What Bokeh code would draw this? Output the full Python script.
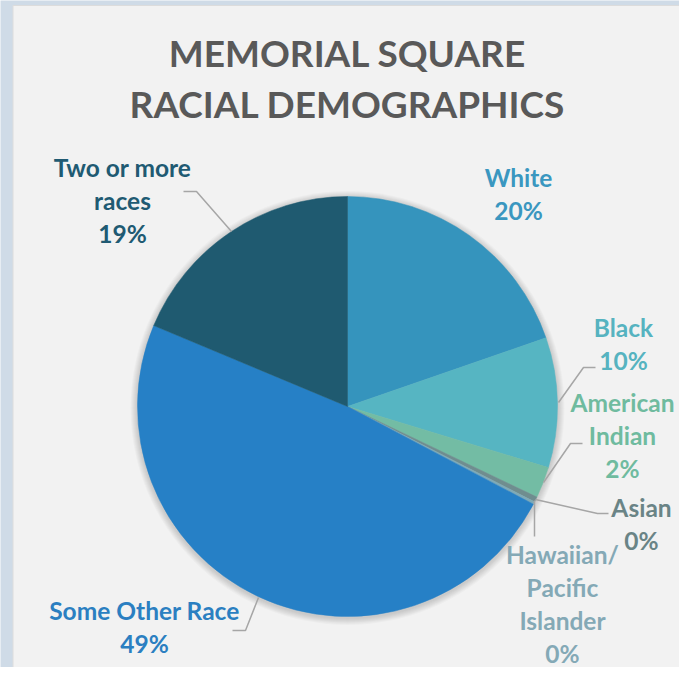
from bokeh.plotting import figure
from bokeh.models import Range1d
from bokeh.core.properties import value
from bokeh.embed import file_html
from bokeh.resources import INLINE
import math

# ---- data ----
categories = ["White", "Black", "American Indian", "Asian", "Hawaiian/Pacific Islander",
              "Some Other Race", "Two or more races"]
shares = [19.7, 10.0, 2.4, 0.4, 0.2, 48.6, 18.7]
label_names = ["White", "Black", "American\nIndian", "Asian", "Hawaiian/\nPacific\nIslander",
               "Some Other Race", "Two or more\nraces"]
slice_colors = ["#3594bd", "#56b5c2", "#73bca4", "#6f8d8f", "#7eaab7", "#2680c6", "#1f5a70"]
label_colors = ["#3a97c0", "#56b3c0", "#6fbb9f", "#6a8486", "#84a9b6", "#2b7fc1", "#205a72"]

# ---- layout (picture pixel coordinates) ----
W, H = 679, 667
def Y(yp):
    return H - yp

cx, cy, R = 347, Y(406), 210
label_pos = [(518, 177), (623, 327), (622, 402), (641, 507), (562, 554), (144, 610), (122, 167)]
leaders = [
    None,
    [(595, 367), (583, 367), (558, 402)],
    [(582, 443), (570, 443), (543, 482)],
    [(535, 499), (597, 513), (608, 513)],
    [(534, 500), (534, 536)],
    [(258, 597), (245, 630), (232, 630)],
    [(183, 191), (196, 191), (231, 231)],
]
LINE_SP = 33

p = figure(width=W, height=H, output_backend="svg", toolbar_location=None,
           x_range=Range1d(0, W), y_range=Range1d(0, H),
           min_border=0, outline_line_color=None)
p.axis.visible = False
p.grid.visible = False
p.background_fill_color = "#cfdbe7"
p.border_fill_color = "#cfdbe7"

# panel
p.quad(left=[12.5], right=[686], bottom=[Y(680)], top=[Y(5)],
       fill_color="#d6d6d6", line_color=None)
p.quad(left=[12.5], right=[683], bottom=[Y(680)], top=[Y(5)],
       fill_color="#f2f2f2", line_color="#dcdcdc", line_width=1)

# soft shadow
for i in range(1, 8):
    p.circle(x=[cx], y=[cy - 1.5], radius=R + i, fill_color="black",
             fill_alpha=0.022, line_color=None)

# pie
total = sum(shares)
starts, ends = [], []
acc = 0.0
for s in shares:
    starts.append(math.pi / 2 - acc / total * 2 * math.pi)
    acc += s
    ends.append(math.pi / 2 - acc / total * 2 * math.pi)
p.wedge(x=cx, y=cy, radius=R, start_angle=starts, end_angle=ends, direction="clock",
        fill_color=slice_colors, line_color=slice_colors, line_width=0.5)

# leader lines
for ld in leaders:
    if ld is None:
        continue
    p.line([q[0] for q in ld], [Y(q[1]) for q in ld], line_color="#a6a6a6", line_width=1.5)

# title
p.text(x=[347, 347], y=[Y(52), Y(103)], text=["MEMORIAL SQUARE", "RACIAL DEMOGRAPHICS"],
       text_align="center", text_baseline="middle", text_color="#595959",
       text_font=value("Lato"), text_font_style="bold", text_font_size="37px")

# data labels
xs, ys, ts, cs = [], [], [], []
for name, s, (lx, ly), col in zip(label_names, shares, label_pos, label_colors):
    lines = name.split("\n") + [f"{round(s)}%"]
    for k, ln in enumerate(lines):
        xs.append(lx)
        ys.append(Y(ly + k * LINE_SP))
        ts.append(ln)
        cs.append(col)
p.text(x=xs, y=ys, text=ts, text_color=cs, text_align="center", text_baseline="middle",
       text_font=value("Lato"), text_font_style="bold", text_font_size="24.5px")

open("out.html", "w").write(file_html(p, INLINE))
